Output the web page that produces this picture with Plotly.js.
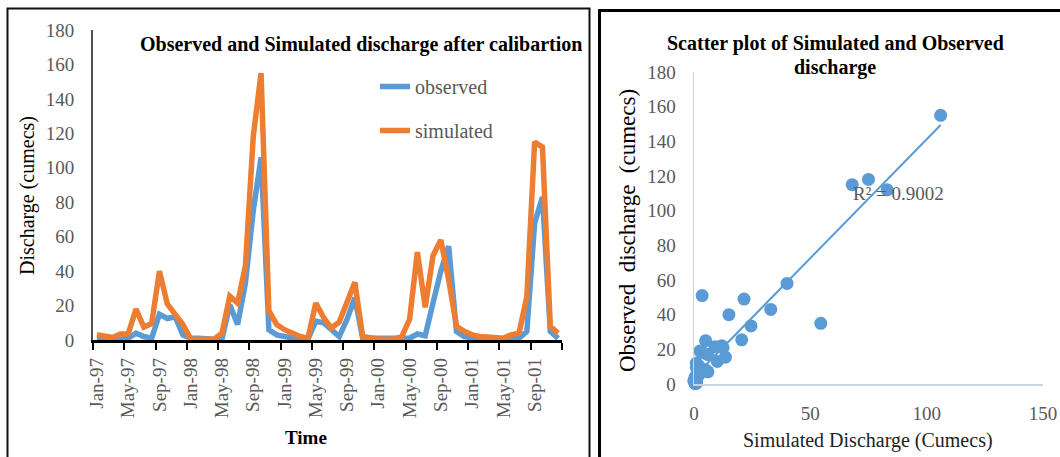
<!DOCTYPE html>
<html>
<head>
<meta charset="utf-8">
<script src="https://cdn.plot.ly/plotly-3.0.1.min.js"></script>
<style>html,body{margin:0;padding:0;background:#fff;}#chart{width:1060px;height:457px;}</style>
</head>
<body>
<div id="chart"></div>
<script>
// ---- data ----
const months = [
 'Jan-97','Feb-97','Mar-97','Apr-97','May-97','Jun-97','Jul-97','Aug-97','Sep-97','Oct-97','Nov-97','Dec-97',
 'Jan-98','Feb-98','Mar-98','Apr-98','May-98','Jun-98','Jul-98','Aug-98','Sep-98','Oct-98','Nov-98','Dec-98',
 'Jan-99','Feb-99','Mar-99','Apr-99','May-99','Jun-99','Jul-99','Aug-99','Sep-99','Oct-99','Nov-99','Dec-99',
 'Jan-00','Feb-00','Mar-00','Apr-00','May-00','Jun-00','Jul-00','Aug-00','Sep-00','Oct-00','Nov-00','Dec-00',
 'Jan-01','Feb-01','Mar-01','Apr-01','May-01','Jun-01','Jul-01','Aug-01','Sep-01','Oct-01','Nov-01','Dec-01'
];
const observed = [
 0.5, 0, 0, 0.5, 1, 4, 2, 1, 15, 12.5, 13.5, 3,
 1, 1, 0.5, 0.5, 0.5, 20.5, 9, 33, 75, 106, 6, 3,
 2, 1, 0.5, 0.5, 11, 10, 6, 2, 12, 24.5, 1, 1,
 0.5, 0.5, 0.5, 0.5, 1, 3.5, 2.5, 21.5, 40, 54.5, 5, 2,
 1, 0.5, 0.5, 0.5, 0.5, 0.5, 1, 5, 68, 83, 5, 1
];
const simulated = [
 3, 2, 1.5, 3.5, 3.5, 18, 7.5, 9.5, 40, 21, 15.5, 9,
 0.5, 0.5, 0.5, 0.5, 4, 25.5, 21.5, 43, 118, 155, 17, 9,
 6, 4, 2, 1, 21.5, 13, 7, 10.5, 22, 33.5, 2, 1,
 0.5, 0.5, 0.5, 2, 12, 51, 19, 49, 58, 35, 8, 5,
 3, 2, 1.5, 1, 1, 3, 4, 25, 115, 112, 8, 4
];
const yTicks = [0, 20, 40, 60, 80, 100, 120, 140, 160, 180];
const scatterXTicks = [0, 50, 100, 150];
const r2Label = 'R² = 0.9002';

// ---- helpers ----
const W = 1060, H = 457;
const px = v => v / W;
const py = v => 1 - v / H;
const serif = 'Liberation Serif, Times New Roman, serif';
const BLUE = '#5B9BD5', ORANGE = '#ED7D31', GRAY = '#595959';

// category positions (points centred in each month slot)
const xPos = months.map((_, i) => i + 0.5);
const labelIdx = months.map((_, i) => i).filter(i => i % 4 === 0);
const boundaryTicks = [];
for (let i = 0; i <= months.length; i += 4) boundaryTicks.push(i);

// linear regression of simulated on observed (trendline)
const n = observed.length;
const mx = observed.reduce((a, b) => a + b, 0) / n;
const my = simulated.reduce((a, b) => a + b, 0) / n;
let sxy = 0, sxx = 0;
for (let i = 0; i < n; i++) { sxy += (observed[i] - mx) * (simulated[i] - my); sxx += (observed[i] - mx) ** 2; }
const slope = sxy / sxx, icpt = my - slope * mx;
const tx = [Math.min(...observed), Math.max(...observed)];
const ty = tx.map(v => icpt + slope * v);

const traces = [
  {x: xPos, y: observed, type: 'scatter', mode: 'lines', name: 'observed',
   line: {color: BLUE, width: 5.5}, xaxis: 'x', yaxis: 'y', legendgroup: 'a'},
  {x: xPos, y: simulated, type: 'scatter', mode: 'lines', name: 'simulated',
   line: {color: ORANGE, width: 5.5}, xaxis: 'x', yaxis: 'y', legendgroup: 'b'},
  {x: observed, y: simulated, type: 'scatter', mode: 'markers', showlegend: false,
   marker: {color: BLUE, size: 13}, xaxis: 'x2', yaxis: 'y2', cliponaxis: false},
  {x: tx, y: ty, type: 'scatter', mode: 'lines', showlegend: false,
   line: {color: BLUE, width: 2}, xaxis: 'x2', yaxis: 'y2'}
];

const tickFont = {family: serif, size: 19, color: GRAY};

const layout = {
  width: W, height: H,
  margin: {l: 0, r: 0, t: 0, b: 0},
  paper_bgcolor: '#fff', plot_bgcolor: 'rgba(0,0,0,0)',
  showlegend: true,
  legend: {x: px(375), y: py(67), xanchor: 'left', yanchor: 'top',
           font: {family: serif, size: 20, color: GRAY}, tracegroupgap: 15,
           bgcolor: 'rgba(0,0,0,0)', borderwidth: 0},
  xaxis: {domain: [px(93), px(562)], range: [0, months.length], anchor: 'y',
          tickmode: 'array', tickvals: labelIdx.map(i => xPos[i]), ticktext: labelIdx.map(i => months[i]),
          tickangle: -90, tickfont: tickFont, ticks: 'outside', ticklen: 8, tickcolor: 'rgba(0,0,0,0)',
          minor: {tickmode: 'array', tickvals: boundaryTicks, ticks: 'outside', ticklen: 7, tickwidth: 2, tickcolor: '#000', showgrid: false},
          showline: true, linecolor: '#000', linewidth: 2.5, showgrid: false, zeroline: false, fixedrange: true},
  yaxis: {domain: [py(340), py(30)], range: [0, 180], anchor: 'x',
          tickmode: 'array', tickvals: yTicks, tickfont: tickFont,
          ticks: 'outside', ticklen: 13, tickcolor: 'rgba(0,0,0,0)',
          showline: true, linecolor: '#505050', linewidth: 2, showgrid: false, zeroline: false},
  xaxis2: {domain: [px(694), px(1043)], range: [0, 150], anchor: 'y2',
           tickmode: 'array', tickvals: scatterXTicks, tickfont: tickFont,
           ticks: 'outside', ticklen: 12, tickcolor: 'rgba(0,0,0,0)',
           showline: true, linecolor: '#C9D3E3', linewidth: 1.5, showgrid: false, zeroline: false},
  yaxis2: {domain: [py(384), py(72)], range: [0, 180], anchor: 'x2',
           tickmode: 'array', tickvals: yTicks, tickfont: tickFont,
           ticks: 'outside', ticklen: 13, tickcolor: 'rgba(0,0,0,0)',
           showline: true, linecolor: '#C9D3E3', linewidth: 1.5, showgrid: false, zeroline: false},
  shapes: [
    {type: 'rect', xref: 'paper', yref: 'paper', x0: px(7.5), x1: px(589.5), y0: -0.1, y1: py(8.5),
     line: {color: '#111', width: 2}, layer: 'below'},
    {type: 'rect', xref: 'paper', yref: 'paper', x0: px(599.5), x1: 1.1, y0: -0.1, y1: py(10.5),
     line: {color: '#000', width: 3}, layer: 'below'}
  ],
  annotations: [
    {text: '<b>Observed and Simulated discharge after calibartion</b>', xref: 'paper', yref: 'paper',
     x: px(361), y: py(45), xanchor: 'center', yanchor: 'middle', showarrow: false,
     font: {family: serif, size: 20, color: '#000'}},
    {text: 'Discharge (cumecs)', xref: 'paper', yref: 'paper', x: px(28), y: py(196),
     xanchor: 'center', yanchor: 'middle', textangle: -90, showarrow: false,
     font: {family: serif, size: 20, color: '#000'}},
    {text: '<b>Time</b>', xref: 'paper', yref: 'paper', x: px(306), y: py(437),
     xanchor: 'center', yanchor: 'middle', showarrow: false,
     font: {family: serif, size: 19, color: '#000'}},
    {text: '<b>Scatter plot of Simulated and Observed</b>', xref: 'paper', yref: 'paper',
     x: px(835), y: py(44), xanchor: 'center', yanchor: 'middle', showarrow: false,
     font: {family: serif, size: 20, color: '#000'}},
    {text: '<b>discharge</b>', xref: 'paper', yref: 'paper',
     x: px(835), y: py(68), xanchor: 'center', yanchor: 'middle', showarrow: false,
     font: {family: serif, size: 20, color: '#000'}},
    {text: 'Observed  discharge  (cumecs)', xref: 'paper', yref: 'paper', x: px(627), y: py(231),
     xanchor: 'center', yanchor: 'middle', textangle: -90, showarrow: false,
     font: {family: serif, size: 23, color: '#000'}},
    {text: 'Simulated Discharge (Cumecs)', xref: 'paper', yref: 'paper', x: px(868), y: py(440),
     xanchor: 'center', yanchor: 'middle', showarrow: false,
     font: {family: serif, size: 20, color: '#222'}},
    {text: r2Label, xref: 'paper', yref: 'paper', x: px(898), y: py(193),
     xanchor: 'center', yanchor: 'middle', showarrow: false,
     font: {family: serif, size: 19, color: GRAY}}
  ]
};

Plotly.newPlot('chart', traces, layout, {displayModeBar: false, staticPlot: true});
</script>
</body>
</html>
